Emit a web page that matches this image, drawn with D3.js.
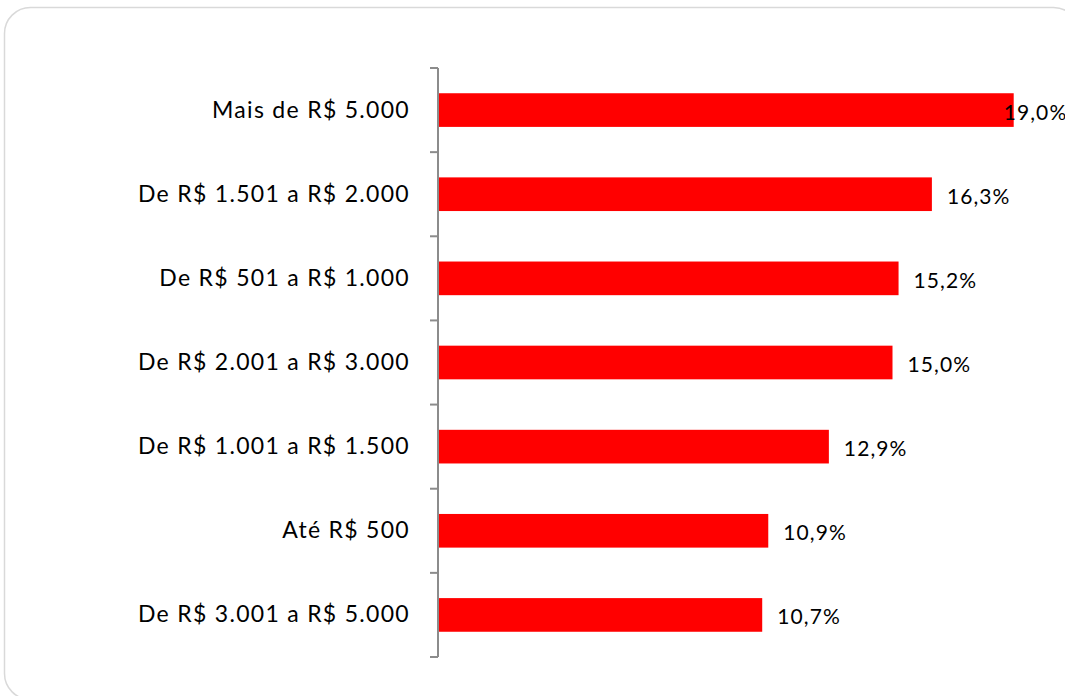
<!DOCTYPE html>
<meta charset="utf-8">
<style>
body { margin: 0; background: #fff; }
.frame { fill: #fff; stroke: #d9d9d9; stroke-width: 1.5px; }
.axis path, .axis line { stroke: #8c8c8c; stroke-width: 2px; }
.axis text { font-family: Lato, sans-serif; font-size: 23px; letter-spacing: 1.3px; fill: #000; }
.value { font-family: Lato, sans-serif; font-size: 21px; letter-spacing: 1.1px; fill: #000; }
</style>
<svg width="1065" height="696"></svg>
<script src="https://d3js.org/d3.v7.min.js"></script>
<script>

// categories top to bottom, values in percent
var categories = ["Mais de R$ 5.000", "De R$ 1.501 a R$ 2.000", "De R$ 501 a R$ 1.000",
                  "De R$ 2.001 a R$ 3.000", "De R$ 1.001 a R$ 1.500", "Até R$ 500",
                  "De R$ 3.001 a R$ 5.000"];
var values = [19.0, 16.3, 15.2, 15.0, 12.9, 10.9, 10.7];
var labels = ["19,0%", "16,3%", "15,2%", "15,0%", "12,9%", "10,9%", "10,7%"];

var svg = d3.select("svg");

svg.append("rect")
    .attr("class", "frame")
    .attr("x", 4.5)
    .attr("y", 7.5)
    .attr("width", 1075)
    .attr("height", 692)
    .attr("rx", 26);

var x = d3.scaleLinear()
    .domain([0, 20])
    .range([438, 1044]);

var y = d3.scaleBand()
    .domain(categories)
    .range([68, 657])
    .paddingInner(0.6)
    .paddingOuter(0.3);

var data = categories.map(function(c, i) { return {cat: c, value: values[i], label: labels[i]}; });

svg.append("g")
    .selectAll("rect")
    .data(data)
    .enter().append("rect")
      .attr("x", x(0))
      .attr("y", function(d) { return y(d.cat); })
      .attr("width", function(d) { return x(d.value) - x(0); })
      .attr("height", y.bandwidth())
      .attr("fill", "#ff0000");

// Excel style axis: ticks between categories
var ticks = d3.range(categories.length + 1).map(function(i) { return 68 + i * (657 - 68) / categories.length; });

var ax = svg.append("g").attr("class", "axis");
ax.append("path")
    .attr("d", "M438,68V657")
    .attr("fill", "none");
ax.selectAll("line")
    .data(ticks)
    .enter().append("line")
      .attr("x1", 430).attr("x2", 438)
      .attr("y1", function(d) { return d; })
      .attr("y2", function(d) { return d; });
ax.selectAll("text")
    .data(categories)
    .enter().append("text")
      .attr("x", 410)
      .attr("y", function(d) { return y(d) + y.bandwidth() / 2 + 7.5; })
      .attr("text-anchor", "end")
      .text(function(d) { return d; });

// the top label does not fit past the bar, so it sits over its end
svg.append("g")
    .selectAll("text")
    .data(data)
    .enter().append("text")
      .attr("class", "value")
      .attr("x", function(d, i) { return i === 0 ? x(d.value) - 10 : x(d.value) + 15; })
      .attr("y", function(d) { return y(d.cat) + y.bandwidth() / 2 + 9.5; })
      .text(function(d) { return d.label; });

</script>
